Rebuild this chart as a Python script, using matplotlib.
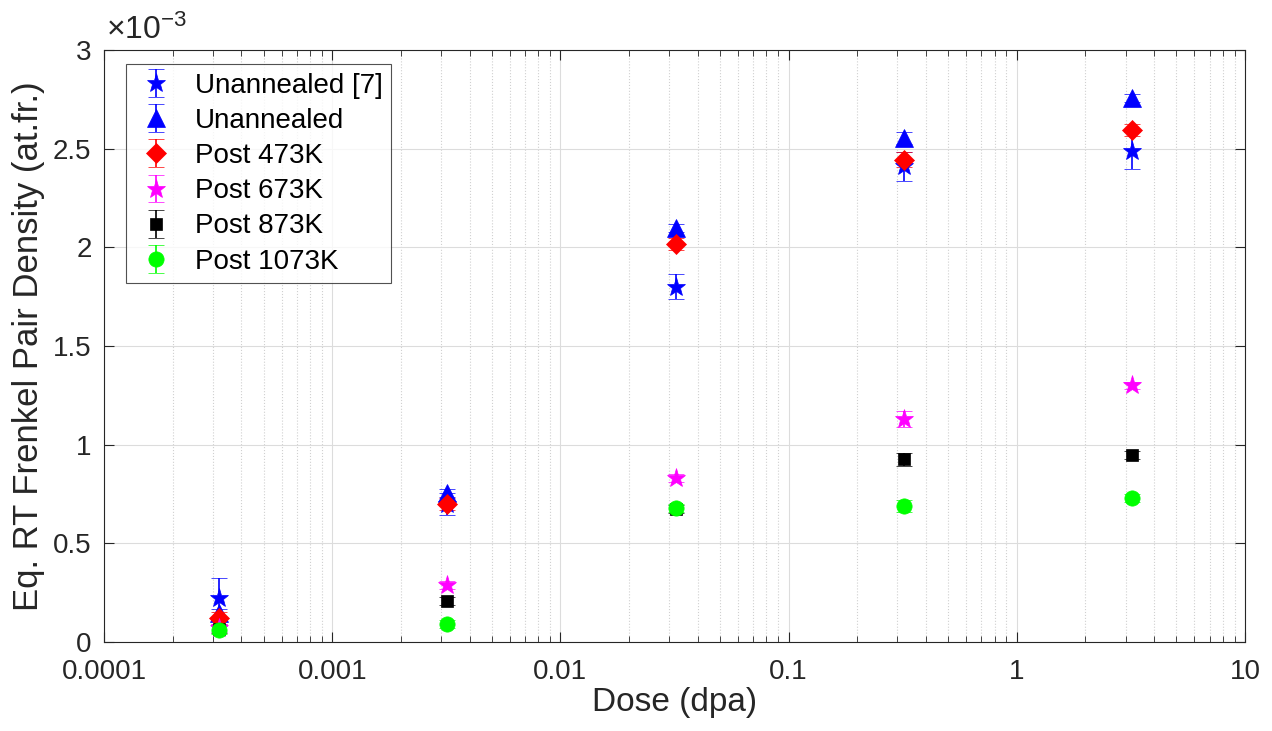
import numpy as np
import matplotlib.pyplot as plt
from matplotlib.ticker import LogLocator, FixedLocator, NullFormatter

plt.rcParams['font.family'] = ['Liberation Sans', 'DejaVu Sans']
plt.rcParams['mathtext.fontset'] = 'custom'
plt.rcParams['mathtext.rm'] = 'Liberation Sans'

# dose in dpa, density in units of 1e-3 at.fr.
dose = [3.2e-4, 3.2e-3, 3.2e-2, 3.2e-1, 3.2]

unann_ref = [0.223, 0.70, 1.80, 2.41, 2.49]
unann_ref_err = [0.10, 0.055, 0.063, 0.075, 0.095]
unann = [0.145, 0.755, 2.10, 2.555, 2.755]
unann_err = [0.02, 0.02, 0.02, 0.03, 0.02]
post473 = [0.12, 0.70, 2.015, 2.445, 2.595]
post473_err = [0.03, 0.03, 0.03, 0.04, 0.03]
post673 = [0.07, 0.29, 0.83, 1.13, 1.30]
post673_err = [0.02, 0.02, 0.02, 0.04, 0.02]
post873 = [0.065, 0.21, 0.675, 0.925, 0.948]
post873_err = [0.02, 0.02, 0.02, 0.035, 0.02]
post1073 = [0.06, 0.09, 0.68, 0.69, 0.73]
post1073_err = [0.02, 0.02, 0.02, 0.03, 0.02]

labels = ['Unannealed [7]', 'Unannealed', 'Post 473K', 'Post 673K',
          'Post 873K', 'Post 1073K']
series = [unann_ref, unann, post473, post673, post873, post1073]
errors = [unann_ref_err, unann_err, post473_err, post673_err, post873_err, post1073_err]
colors = ['#0000ff', '#0000ff', '#ff0000', '#ff00ff', '#000000', '#00ff00']
markers = ['*', '^', 'D', '*', 's', 'o']
sizes = [14, 13, 10, 14, 8, 11]

fig = plt.figure(figsize=(12.72, 7.31), dpi=100)
ax = fig.add_axes([104 / 1272, 1 - 642 / 731, 1141 / 1272, 592 / 731])

for y, e, c, m, s, lab in zip(series, errors, colors, markers, sizes, labels):
    ax.errorbar(dose, y, yerr=e, fmt=m, color=c, ecolor=c, markersize=s,
                markeredgewidth=0.5, elinewidth=1.2, capsize=6, capthick=1.2,
                label=lab)

ax.set_xscale('log')
ax.set_xlim(1e-4, 10)
ax.set_ylim(0, 3)

ax.xaxis.set_major_locator(FixedLocator([1e-4, 1e-3, 1e-2, 1e-1, 1, 10]))
ax.set_xticklabels(['0.0001', '0.001', '0.01', '0.1', '1', '10'])
ax.xaxis.set_minor_locator(LogLocator(base=10, subs=np.arange(2, 10), numticks=20))
ax.xaxis.set_minor_formatter(NullFormatter())
ax.set_yticks(np.arange(0, 3.01, 0.5))
ax.set_yticklabels(['0', '0.5', '1', '1.5', '2', '2.5', '3'])

ax.grid(True, which='major', color='#dcdcdc', linewidth=0.8)
ax.grid(True, which='minor', axis='x', color='#d0d0d0', linestyle=':', linewidth=0.8)
ax.set_axisbelow(True)

ax.tick_params(which='both', direction='in', top=True, right=True, labelsize=20,
               color='#262626', labelcolor='#262626')
ax.tick_params(axis='y', pad=9)
ax.tick_params(axis='x', pad=12)
ax.tick_params(which='major', length=7)
ax.tick_params(which='minor', length=4)
for sp in ax.spines.values():
    sp.set_color('#262626')
    sp.set_linewidth(0.8)

ax.set_xlabel('Dose (dpa)', fontsize=24, color='#262626', labelpad=2)
ax.set_ylabel('Eq. RT Frenkel Pair Density (at.fr.)', fontsize=25,
              color='#262626', labelpad=6)
ax.text(0.002, 1.006, r'$\times\mathregular{10^{-3}}$', transform=ax.transAxes,
        fontsize=23, ha='left', va='bottom', color='#262626')

leg = ax.legend(loc='upper left', bbox_to_anchor=(0.014, 0.985), fontsize=20,
                frameon=True, fancybox=False, edgecolor='#262626',
                handletextpad=0.6, handlelength=1.6, borderpad=0.3,
                labelspacing=0.33, borderaxespad=0.2)
leg.get_frame().set_linewidth(0.8)

fig.savefig('out.png', dpi=100)
